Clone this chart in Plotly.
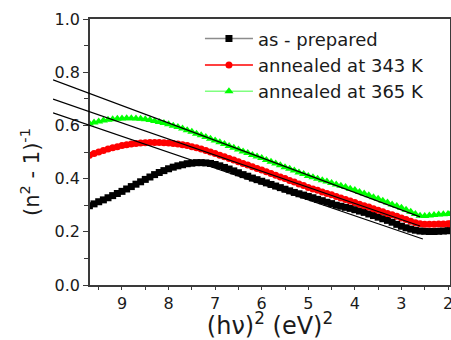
import plotly.graph_objects as go

# ---------------- data ----------------
hv2 = [9.7, 9.6, 9.5, 9.4, 9.3, 9.2, 9.1, 9.0,
       8.9, 8.8, 8.7, 8.6, 8.5, 8.4, 8.3, 8.2, 8.1, 8.0,
       7.9, 7.8, 7.7, 7.6, 7.5, 7.4, 7.3, 7.2, 7.1, 7.0,
       6.9, 6.8, 6.7, 6.6, 6.5, 6.4, 6.3, 6.2, 6.1, 6.0,
       5.9, 5.8, 5.7, 5.6, 5.5, 5.4, 5.3, 5.2, 5.1, 5.0,
       4.9, 4.8, 4.7, 4.6, 4.5, 4.4, 4.3, 4.2, 4.1, 4.0,
       3.9, 3.8, 3.7, 3.6, 3.5, 3.4, 3.3, 3.2, 3.1, 3.0,
       2.9, 2.8, 2.7, 2.6, 2.5, 2.4, 2.3, 2.2, 2.1, 2.0,
       1.95]

as_prepared = [0.298, 0.305, 0.313, 0.320, 0.328, 0.336, 0.344, 0.352,
               0.361, 0.370, 0.379, 0.388, 0.397, 0.406, 0.415, 0.423, 0.430, 0.437,
               0.443, 0.448, 0.452, 0.456, 0.458, 0.460, 0.460, 0.459, 0.457, 0.453,
               0.448, 0.442, 0.436, 0.429, 0.422, 0.415, 0.409, 0.402, 0.396, 0.390,
               0.384, 0.378, 0.372, 0.366, 0.360, 0.354, 0.348, 0.343, 0.338, 0.333,
               0.328, 0.322, 0.317, 0.311, 0.306, 0.300, 0.296, 0.292, 0.288, 0.283,
               0.278, 0.273, 0.267, 0.261, 0.255, 0.249, 0.243, 0.236, 0.228, 0.221,
               0.215, 0.210, 0.206, 0.203, 0.202, 0.201, 0.201, 0.202, 0.203, 0.204,
               0.205]

annealed_343 = [0.488, 0.494, 0.500, 0.506, 0.511, 0.516, 0.520, 0.524,
                0.527, 0.530, 0.532, 0.534, 0.535, 0.536, 0.536, 0.536, 0.535, 0.534,
                0.532, 0.530, 0.527, 0.524, 0.520, 0.516, 0.511, 0.506, 0.500, 0.494,
                0.488, 0.482, 0.476, 0.470, 0.463, 0.457, 0.451, 0.445, 0.438, 0.432,
                0.426, 0.419, 0.413, 0.406, 0.400, 0.393, 0.387, 0.380, 0.374, 0.367,
                0.361, 0.356, 0.350, 0.344, 0.339, 0.333, 0.327, 0.321, 0.316, 0.310,
                0.304, 0.298, 0.293, 0.287, 0.281, 0.275, 0.269, 0.264, 0.258, 0.252,
                0.246, 0.240, 0.234, 0.230, 0.228, 0.228, 0.228, 0.229, 0.229, 0.230,
                0.230]

annealed_365 = [0.607, 0.611, 0.615, 0.618, 0.621, 0.623, 0.625, 0.626,
                0.627, 0.627, 0.626, 0.625, 0.623, 0.620, 0.617, 0.613, 0.609, 0.604,
                0.599, 0.594, 0.588, 0.582, 0.576, 0.569, 0.563, 0.556, 0.550, 0.543,
                0.537, 0.530, 0.523, 0.516, 0.509, 0.502, 0.496, 0.489, 0.483, 0.477,
                0.470, 0.463, 0.457, 0.450, 0.443, 0.437, 0.430, 0.423, 0.417, 0.410,
                0.405, 0.399, 0.394, 0.389, 0.383, 0.378, 0.373, 0.368, 0.362, 0.357,
                0.350, 0.344, 0.337, 0.330, 0.324, 0.317, 0.310, 0.303, 0.297, 0.290,
                0.283, 0.275, 0.267, 0.260, 0.259, 0.261, 0.263, 0.265, 0.266, 0.267,
                0.267]

series_names = ["as - prepared", "annealed at 343 K", "annealed at 365 K"]

# straight-line fits (endpoints in data units)
fit_x_as = [10.48, 2.54]
fit_y_as = [0.647, 0.173]
fit_x_343 = [10.48, 2.60]
fit_y_343 = [0.699, 0.222]
fit_x_365 = [10.48, 2.60]
fit_y_365 = [0.771, 0.256]

x_tickvals = [9, 8, 7, 6, 5, 4, 3, 2]
y_tickvals = [0.0, 0.2, 0.4, 0.6, 0.8, 1.0]

# ---------------- layout geometry ----------------
W, H = 451, 340
ML, MR, MT, MB = 40, 1, 19, 55
plot_w = W - ML - MR
plot_h = H - MT - MB
axis_px = 90          # pixel of main y axis
fit_px = 53           # pixel where fit lines start (beyond axis)
right_px = W - MR
x_left, x_right = 9.687, 1.957
dom_main = (axis_px - ML) / plot_w
dom_fit = (fit_px - ML) / plot_w
x_left_fit = x_right + (x_left - x_right) * (right_px - fit_px) / (right_px - axis_px)

FONT = "DejaVu Sans, Arial, sans-serif"

fig = go.Figure()

styles = [
    dict(mc="#000000", lc="#8c8c8c", sym="square", size=7),
    dict(mc="#ff0000", lc="#ff0000", sym="circle", size=7),
    dict(mc="#00ff00", lc="#80ff80", sym="triangle-up", size=8),
]
for name, ys, st in zip(series_names, [as_prepared, annealed_343, annealed_365], styles):
    fig.add_trace(go.Scatter(
        x=hv2, y=ys, name=name, mode="lines+markers",
        line=dict(color=st["lc"], width=1.5),
        marker=dict(color=st["mc"], symbol=st["sym"], size=st["size"], line=dict(width=0)),
        xaxis="x", yaxis="y",
    ))

for fx, fy in [(fit_x_as, fit_y_as), (fit_x_343, fit_y_343), (fit_x_365, fit_y_365)]:
    fig.add_trace(go.Scatter(
        x=fx, y=fy, mode="lines", showlegend=False, hoverinfo="skip",
        line=dict(color="black", width=1.2),
        xaxis="x2", yaxis="y2",
    ))

axis_common = dict(showgrid=False, zeroline=False, showline=True, linecolor="#3a3a3a",
                   linewidth=1.5, mirror=True, ticks="outside", tickcolor="#3a3a3a",
                   tickfont=dict(family=FONT, size=16, color="#1a1a1a"))

fig.update_layout(
    width=W, height=H,
    margin=dict(l=ML, r=MR, t=MT, b=MB, autoexpand=False),
    paper_bgcolor="white", plot_bgcolor="rgba(0,0,0,0)",
    font=dict(family=FONT, color="#1a1a1a"),
    xaxis=dict(domain=[dom_main, 1], range=[x_left, x_right], tickvals=x_tickvals,
               ticklen=3, tickwidth=1, ticklabeloverflow="allow",
               minor=dict(dtick=0.5, tick0=0, ticklen=3, ticks="outside", tickcolor="#3a3a3a"),
               title=dict(text="(hν)<sup>2</sup> (eV)<sup>2</sup>",
                          font=dict(family=FONT, size=24, color="#1a1a1a"), standoff=6),
               anchor="y", automargin=False, **axis_common),
    yaxis=dict(domain=[0, 1], range=[0, 1], tickvals=y_tickvals, tickformat=".1f",
               ticklen=5, tickwidth=1,
               minor=dict(dtick=0.1, tick0=0, ticklen=4, ticks="outside", tickcolor="#3a3a3a"),
               anchor="x", automargin=False, **axis_common),
    xaxis2=dict(domain=[dom_fit, 1], range=[x_left_fit, x_right], visible=False,
                anchor="y2", fixedrange=True),
    yaxis2=dict(domain=[0, 1], range=[0, 1], visible=False, anchor="x2", fixedrange=True),
    legend=dict(x=(202 - ML) / plot_w - 0.005, y=0.995, xanchor="left", yanchor="top",
                bgcolor="rgba(0,0,0,0)", borderwidth=0, itemwidth=48,
                font=dict(family=FONT, size=18, color="#1a1a1a"), tracegroupgap=0),
    showlegend=True,
    annotations=[dict(
        text="(n<sup>2</sup> - 1)<sup>-1</sup>", textangle=-90, showarrow=False,
        xref="paper", yref="paper",
        x=(30 - ML) / plot_w, y=(H - MB - 172) / plot_h,
        xanchor="center", yanchor="middle",
        font=dict(family=FONT, size=21, color="#1a1a1a"),
    )],
)

fig.write_html("out.html")
